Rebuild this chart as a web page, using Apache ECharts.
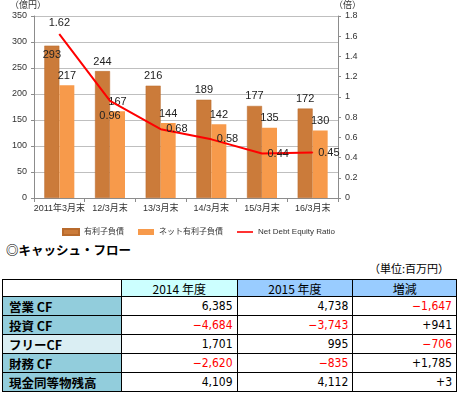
<!DOCTYPE html>
<html>
<head>
<meta charset="utf-8">
<script src="https://cdn.jsdelivr.net/npm/echarts@6/dist/echarts.min.js"></script>
<style>
    html, body { margin: 0; padding: 0; background: #fff; }
    #wrap { position: relative; width: 457px; height: 397px; overflow: hidden; }
    #chart { position: absolute; left: 0; top: 0; width: 457px; height: 240px; }
    #title { position: absolute; left: 6px; top: 242px; font: bold 12.5px/16px 'Noto Sans CJK JP'; color: #000; }
    #unit { position: absolute; right: 8px; top: 261px; font: 11px/14px 'Noto Sans CJK JP'; color: #000; }
    #cf { position: absolute; left: 2px; top: 279px; border-collapse: collapse; table-layout: fixed; }
    #cf td { border: 1.5px solid #000; height: 18px; padding: 0 4px; line-height: 15px; overflow: hidden; white-space: nowrap; }
    #cf tr.first td { height: 16px; }
    #cf td.lbl { font: bold 12.5px/15px 'Noto Sans CJK JP'; text-align: left; padding-left: 6px; background: #92CDDC; }
    #cf td.lbl.free { background: #DAEEF3; }
    #cf td.num { font: 12px/15px 'Liberation Sans Narrow', 'DejaVu Sans Condensed', sans-serif; text-align: right; }
    #cf td.neg { color: #ff0000; }
    #cf td.head { font: 12px/15px 'Noto Sans CJK JP'; text-align: center; }
</style>
</head>
<body>
<div id="wrap">
    <div id="chart"></div>
    <div id="title">◎キャッシュ・フロー</div>
    <div id="unit">（単位:百万円）</div>
    <table id="cf"></table>
</div>
<script>
// グラフのデータ
var categories = ["2011年3月末", "12/3月末", "13/3月末", "14/3月末", "15/3月末", "16/3月末"];
var debt = [293, 244, 216, 189, 177, 172];
var netDebt = [217, 167, 144, 142, 135, 130];
var ratio = [1.62, 0.96, 0.68, 0.58, 0.44, 0.45];
var seriesNames = ["有利子負債", "ネット有利子負債", "Net Debt Equity Ratio"];

// 表のデータ
var cfHeaders = ["", "2014 年度", "2015 年度", "増減"];
var cfRows = ["営業 CF", "投資 CF", "フリーCF", "財務 CF", "現金同等物残高"];
var cf2014 = ["6,385", "−4,684", "1,701", "−2,620", "4,109"];
var cf2015 = ["4,738", "−3,743", "995", "−835", "4,112"];
var cfDiff = ["−1,647", "+941", "−706", "+1,785", "+3"];

var font = "'Liberation Sans', 'Noto Sans CJK JP', sans-serif";
var gray = "#8c8c8c";

var chart = echarts.init(document.getElementById("chart"));

chart.setOption({
    animation: false,
    textStyle: { fontFamily: font },
    grid: { left: 34, right: 119, top: 16, bottom: 42 },
    legend: {
        left: 57,
        top: 223,
        itemWidth: 16,
        itemHeight: 6,
        itemGap: 14,
        textStyle: { fontSize: 8, color: "#333", fontFamily: font },
        data: [
            { name: seriesNames[0], icon: "rect" },
            { name: seriesNames[1], icon: "rect" },
            { name: seriesNames[2], icon: "path://M0,0L20,0L20,2L0,2Z", itemHeight: 2 }
        ]
    },
    graphic: [
        { type: "text", left: 10, top: 0, style: { text: "（億円）", font: "9px 'Noto Sans CJK JP'", fill: "#333" } },
        { type: "text", left: 334, top: 0, style: { text: "（倍）", font: "9px 'Noto Sans CJK JP'", fill: "#333" } }
    ],
    xAxis: {
        type: "category",
        data: categories,
        axisLine: { lineStyle: { color: gray } },
        axisTick: { show: true, length: 4, lineStyle: { color: gray } },
        axisLabel: { fontSize: 9, color: "#333", margin: 6, interval: 0 }
    },
    yAxis: [
        {
            type: "value",
            min: 0,
            max: 350,
            interval: 50,
            axisLine: { show: true, lineStyle: { color: gray } },
            axisTick: { show: true, length: 3, lineStyle: { color: gray } },
            axisLabel: { fontSize: 9, color: "#333", margin: 7 },
            splitLine: { lineStyle: { color: "#bfbfbf" } }
        },
        {
            type: "value",
            min: 0,
            max: 1.8,
            interval: 0.2,
            axisLine: { show: true, lineStyle: { color: gray } },
            axisTick: { show: true, length: 3, lineStyle: { color: gray } },
            axisLabel: { fontSize: 9, color: "#333", margin: 7 },
            splitLine: { show: false }
        }
    ],
    series: [
        {
            name: seriesNames[0],
            type: "bar",
            barWidth: 15,
            barGap: "0%",
            itemStyle: { color: "#CB7B3A", borderColor: "#B86A2C", borderWidth: 0.5 },
            data: debt.map(function (v, i) {
                return {
                    value: v,
                    label: { position: i === 0 ? "insideTop" : "top" }
                };
            }),
            label: { show: true, fontSize: 11, color: "#222", distance: 4 }
        },
        {
            name: seriesNames[1],
            type: "bar",
            barWidth: 15,
            itemStyle: { color: "#F79A4B" },
            data: netDebt,
            label: { show: true, position: "top", fontSize: 11, color: "#222", distance: 4 }
        },
        {
            name: seriesNames[2],
            type: "line",
            yAxisIndex: 1,
            symbol: "circle",
            symbolSize: 1,
            showSymbol: true,
            lineStyle: { color: "#ff0000", width: 2 },
            itemStyle: { color: "#ff0000" },
            data: ratio.map(function (v, i) {
                return {
                    value: v,
                    label: i === 1 ? { position: "bottom", distance: 9 } : { position: i === 0 ? "top" : "right" }
                };
            }),
            label: { show: true, fontSize: 11, color: "#222", distance: 5 }
        }
    ]
});

// キャッシュ・フロー表
var widths = [110, 107, 107, 95];
var headBg = ["#ffffff", "#CCFFFF", "#99CCFF", "#99CCFF"];
var table = document.getElementById("cf");
var html = '<tr class="first">';
cfHeaders.forEach(function (h, i) {
    html += '<td class="head" style="width:' + widths[i] + 'px;background:' + headBg[i] + '">' + h + "</td>";
});
html += "</tr>";
function numCell(s) {
    var neg = s.charAt(0) === "−";
    return '<td class="num' + (neg ? " neg" : "") + '">' + s + "</td>";
}
cfRows.forEach(function (r, i) {
    html += "<tr>";
    html += '<td class="lbl' + (i === 2 ? " free" : "") + '">' + r + "</td>";
    html += numCell(cf2014[i]) + numCell(cf2015[i]) + numCell(cfDiff[i]);
    html += "</tr>";
});
table.innerHTML = html;
</script>
</body>
</html>
